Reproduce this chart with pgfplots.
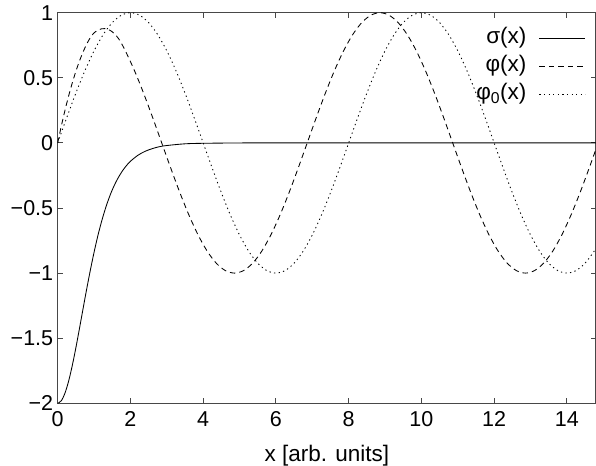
\documentclass[border=0pt]{standalone}
\usepackage{fontspec}
\setmainfont{Liberation Sans}
\usepackage{pgfplots}
\pgfplotsset{compat=1.18}

\pgfplotstableread{
x y
0 -2
0.1 -1.980
0.2 -1.922
0.3 -1.830
0.4 -1.711
0.5 -1.573
0.6 -1.423
0.7 -1.269
0.8 -1.118
0.9 -0.974
1.0 -0.840
1.1 -0.718
1.2 -0.610
1.3 -0.515
1.4 -0.432
1.5 -0.361
1.6 -0.301
1.7 -0.250
1.8 -0.207
1.9 -0.171
2.0 -0.141
2.2 -0.096
2.4 -0.065
2.6 -0.044
2.8 -0.029
3.0 -0.020
3.5 -0.007
4.0 -0.003
5.0 -0.0004
6.0 0
14.8 0
}\sigmadata

\pgfplotstableread{
x y
0 0
0.1 0.13
0.2 0.25
0.3 0.36
0.4 0.46
0.5 0.55
0.6 0.63
0.7 0.70
0.8 0.76
0.9 0.81
1.0 0.845
1.1 0.865
1.2 0.876
1.3 0.878
1.4 0.870
1.5 0.853
1.6 0.826
1.7 0.79
1.86 0.7071
2.11 0.5556
2.36 0.3827
2.61 0.1951
2.86 0
3.11 -0.1951
3.36 -0.3827
3.61 -0.5556
3.86 -0.7071
4.11 -0.8315
4.36 -0.9239
4.61 -0.9808
4.86 -1
5.11 -0.9808
5.36 -0.9239
5.61 -0.8315
5.86 -0.7071
6.11 -0.5556
6.36 -0.3827
6.61 -0.1951
6.86 0
7.11 0.1951
7.36 0.3827
7.61 0.5556
7.86 0.7071
8.11 0.8315
8.36 0.9239
8.61 0.9808
8.86 1
9.11 0.9808
9.36 0.9239
9.61 0.8315
9.86 0.7071
10.11 0.5556
10.36 0.3827
10.61 0.1951
10.86 0
11.11 -0.1951
11.36 -0.3827
11.61 -0.5556
11.86 -0.7071
12.11 -0.8315
12.36 -0.9239
12.61 -0.9808
12.86 -1
13.11 -0.9808
13.36 -0.9239
13.61 -0.8315
13.86 -0.7071
14.11 -0.5556
14.36 -0.3827
14.61 -0.1951
14.8 -0.047
}\phidata

\pgfplotstableread{
x y
0 0
0.25 0.1951
0.5 0.3827
0.75 0.5556
1 0.7071
1.25 0.8315
1.5 0.9239
1.75 0.9808
2 1
2.25 0.9808
2.5 0.9239
2.75 0.8315
3 0.7071
3.25 0.5556
3.5 0.3827
3.75 0.1951
4 0
4.25 -0.1951
4.5 -0.3827
4.75 -0.5556
5 -0.7071
5.25 -0.8315
5.5 -0.9239
5.75 -0.9808
6 -1
6.25 -0.9808
6.5 -0.9239
6.75 -0.8315
7 -0.7071
7.25 -0.5556
7.5 -0.3827
7.75 -0.1951
8 0
8.25 0.1951
8.5 0.3827
8.75 0.5556
9 0.7071
9.25 0.8315
9.5 0.9239
9.75 0.9808
10 1
10.25 0.9808
10.5 0.9239
10.75 0.8315
11 0.7071
11.25 0.5556
11.5 0.3827
11.75 0.1951
12 0
12.25 -0.1951
12.5 -0.3827
12.75 -0.5556
13 -0.7071
13.25 -0.8315
13.5 -0.9239
13.75 -0.9808
14 -1
14.25 -0.9808
14.5 -0.9239
14.75 -0.8315
14.8 -0.809
}\phizerodata

\begin{document}
\begin{tikzpicture}
\begin{axis}[
  name=ax,
  scale only axis,
  width=538.3bp, height=390.6bp,
  xmin=0, xmax=14.8, ymin=-2, ymax=1,
  xtick={0,2,...,14},
  xticklabels={0,2,4,6,8,10,12,14},
  ytick={-2,-1.5,-1,-0.5,0,0.5,1},
  yticklabels={−2,−1.5,−1,−0.5,0,0.5,1},
  tick align=inside,
  major tick length=5bp,
  axis line style={line width=1.2bp, black!72},
  every tick/.style={line width=1bp, black!72},
  tick label style={font=\fontsize{21.5bp}{25bp}\selectfont},
  label style={font=\fontsize{22.5bp}{26bp}\selectfont},
  xticklabel style={yshift=-4.5bp},
  yticklabel style={xshift=-1bp},
  xlabel={x [arb. units]},
  xlabel style={at={(axis description cs:0.5,0)}, anchor=base, yshift=-58bp},
  legend plot pos=right,
  legend cell align=right,
  legend image code/.code={\draw[#1] (0bp,0bp) -- (46bp,0bp);},
  legend style={draw=none, fill=none, at={(rel axis cs:1,1)}, anchor=north east,
    xshift=-7bp, yshift=-11bp, column sep=11bp, row sep=3.5bp,
    nodes={inner sep=1.5bp, text height=16bp, text depth=5.5bp},
    font=\fontsize{22.5bp}{26bp}\selectfont},
]
\addplot[black, line width=0.85bp, smooth] table {\sigmadata};
\addlegendentry{σ(x)}
\addplot[black, line width=0.85bp, smooth, dash pattern=on 5.5bp off 4bp] table {\phidata};
\addlegendentry{φ(x)}
\addplot[black, line width=0.85bp, smooth, dash pattern=on 1.3bp off 3.3bp] table {\phizerodata};
\addlegendentry{φ\textsubscript{0}(x)}
\end{axis}
\pgfresetboundingbox
\path[use as bounding box] ([xshift=-57.7bp,yshift=-62.7bp]ax.south west) rectangle ([yshift=12.7bp]ax.north east);
\end{tikzpicture}
\end{document}
